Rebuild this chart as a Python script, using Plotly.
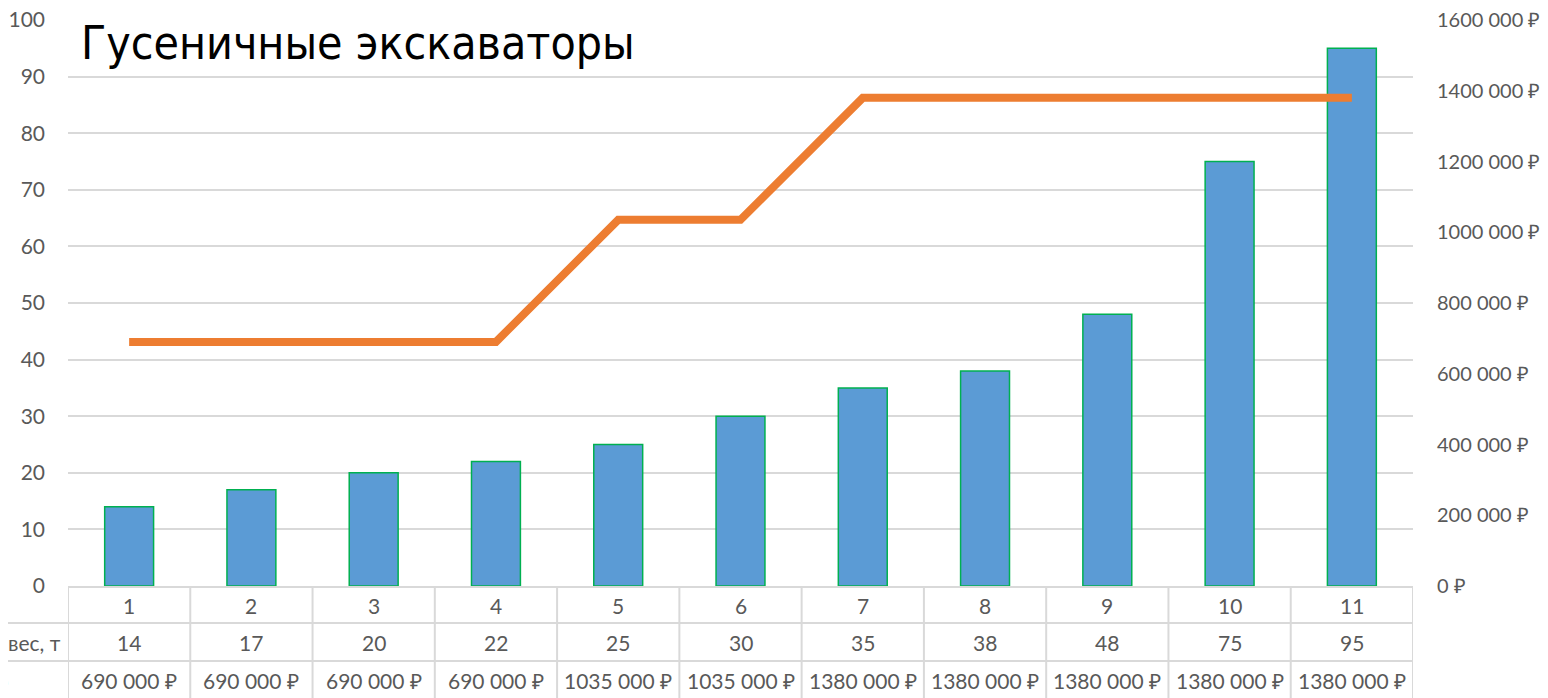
import plotly.graph_objects as go

categories = [1, 2, 3, 4, 5, 6, 7, 8, 9, 10, 11]
weights = [14, 17, 20, 22, 25, 30, 35, 38, 48, 75, 95]
prices = [690000, 690000, 690000, 690000, 1035000, 1035000, 1380000, 1380000, 1380000, 1380000, 1380000]
left_ticks = [0, 10, 20, 30, 40, 50, 60, 70, 80, 90, 100]
right_ticks = [0, 200000, 400000, 600000, 800000, 1000000, 1200000, 1400000, 1600000]
title_text = "Гусеничные экскаваторы"
row_labels = ["вес, т", "цена, руб"]


def rub(v):
    if v >= 1000:
        return f"{v // 1000} {v % 1000:03d} ₽"
    return f"{v} ₽"


OFF = 8  # default page body margin
W, H = 1548 - OFF, 698 - OFF
# plot area in screen pixels
L, R, T, B = 68, 1413, 20, 586
PH = B - T
PW = R - L


def py(p):
    return (B - p) / PH


def px(p):
    return (p - L) / PW


FONT = "Lato, Open Sans, sans-serif"
GRAY = "#595959"
LINE = "#D9D9D9"
FS = 21

fig = go.Figure()
fig.add_trace(go.Bar(
    x=categories, y=weights, width=0.4,
    marker=dict(color="#5B9BD5", line=dict(color="#00B050", width=1.5)),
    name="вес, т", yaxis="y"))
fig.add_trace(go.Scatter(
    x=categories, y=prices, mode="lines",
    line=dict(color="#ED7D31", width=8),
    name="цена", yaxis="y2"))

shapes = []
shapes.append(dict(type="line", xref="paper", yref="paper", x0=0, x1=1, y0=py(587), y1=py(587),
                   line=dict(color=LINE, width=2)))
for yy in (623, 661):
    shapes.append(dict(type="line", xref="paper", yref="paper", x0=px(0), x1=1, y0=py(yy), y1=py(yy),
                       line=dict(color=LINE, width=2)))
for k in range(len(categories) + 1):
    xv = categories[0] - 0.5 + k
    shapes.append(dict(type="line", xref="x", yref="paper", x0=xv, x1=xv, y0=py(587), y1=py(700),
                       line=dict(color=LINE, width=2)))

tf = dict(family=FONT, size=FS, color=GRAY)
ann = []
for c, w, p in zip(categories, weights, prices):
    for txt, yy in ((str(c), 605), (str(w), 642), (rub(p), 680)):
        ann.append(dict(x=c, y=py(yy), xref="x", yref="paper", text=txt, showarrow=False,
                        xanchor="center", yanchor="middle", font=tf))
ann.append(dict(x=px(63), y=py(642), xref="paper", yref="paper", text=row_labels[0], showarrow=False,
                xanchor="right", yanchor="middle", font=tf))
ann.append(dict(x=px(11), y=py(680), xref="paper", yref="paper", text=row_labels[1], showarrow=False,
                xanchor="right", yanchor="middle", font=tf))
ann.append(dict(x=px(79), y=py(43), xref="paper", yref="paper", text=title_text, showarrow=False,
                xanchor="left", yanchor="middle",
                font=dict(family="DejaVu Sans Condensed, DejaVu Sans, sans-serif", size=46,
                          color="#000000")))

fig.update_layout(
    width=W, height=H,
    margin=dict(l=L - OFF, r=(W + OFF) - R, t=T - OFF, b=(H + OFF) - B, pad=0, autoexpand=False),
    paper_bgcolor="white", plot_bgcolor="white",
    showlegend=False, bargap=0.6,
    font=dict(family=FONT, size=FS, color=GRAY),
    xaxis=dict(range=[0.5, 11.5], showticklabels=False, showgrid=False, zeroline=False,
               showline=False, ticks="", automargin=False),
    yaxis=dict(range=[0, 100], tickvals=left_ticks, showgrid=True, gridcolor=LINE, gridwidth=2,
               zeroline=False, showline=False, ticks="", ticklabelstandoff=22,
               ticklabeloverflow="allow", automargin=False, tickfont=tf),
    yaxis2=dict(range=[0, 1600000], overlaying="y", side="right", tickvals=right_ticks,
                ticktext=[rub(v) for v in right_ticks], showgrid=False, zeroline=False,
                showline=False, ticks="", ticklabelstandoff=23,
                ticklabeloverflow="allow", automargin=False,
                tickfont=dict(family=FONT, size=20, color=GRAY)),
    shapes=shapes, annotations=ann,
)
fig.write_html("out.html", config={"displayModeBar": False})
